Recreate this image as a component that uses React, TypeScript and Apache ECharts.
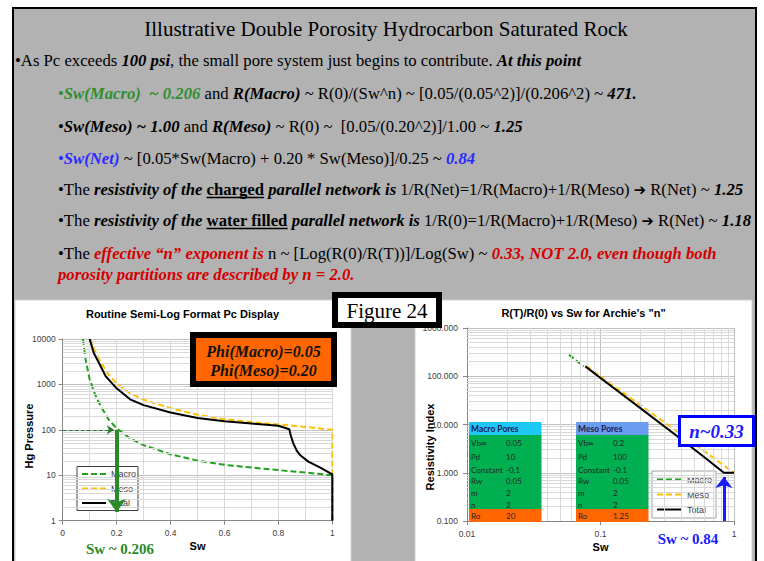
import React, { useEffect, useRef } from 'react';
import * as echarts from 'echarts';

// ---------- texts ----------
const SLIDE_TITLE = 'Illustrative Double Porosity Hydrocarbon Saturated Rock';
const FIGURE_LABEL = 'Figure 24';
const LEFT_TITLE = 'Routine Semi-Log Format Pc Display';
const RIGHT_TITLE = 'R(T)/R(0) vs Sw for Archie\'s "n"';
const LEFT_Y_NAME = 'Hg Pressure';
const RIGHT_Y_NAME = 'Resistivity Index';
const X_NAME = 'Sw';
const seriesNames = ['Macro', 'Meso', 'Total'];
const phiLines = ['Phi(Macro)=0.05', 'Phi(Meso)=0.20'];
const nLabel = 'n~0.33';
const swMacroLabel = 'Sw ~ 0.206';
const swNetLabel = 'Sw ~ 0.84';

// ---------- axes ticks ----------
const swTicks = [0, 0.2, 0.4, 0.6, 0.8, 1];
const pcTicks = [1, 10, 100, 1000, 10000];
const swLogTicks = [0.01, 0.1, 1];
const riTicks = [0.1, 1, 10, 100, 1000];

// ---------- left chart: Hg pressure vs Sw ----------
const macroSw = [0.075, 0.085, 0.1, 0.12, 0.14, 0.17, 0.2, 0.25, 0.3, 0.4, 0.5, 0.6, 0.7, 0.8, 0.9, 1.0, 1.0];
const macroPc = [10000, 3500, 1300, 600, 340, 170, 108, 65, 46, 29, 21, 17, 14.8, 13, 11.5, 10, 1];
const mesoSw = [0.104, 0.12, 0.14, 0.17, 0.2, 0.25, 0.3, 0.4, 0.5, 0.6, 0.7, 0.8, 0.9, 1.0, 1.0];
const mesoPc = [10000, 5500, 3200, 1650, 1050, 640, 460, 300, 215, 172, 148, 132, 116, 100, 1];
const totalSw = [0.1, 0.115, 0.138, 0.16, 0.2, 0.25, 0.3, 0.4, 0.5, 0.6, 0.7, 0.8, 0.8405, 0.8455, 0.855, 0.868, 0.88, 0.911, 0.954, 1.0, 1.0];
const totalPc = [10000, 5000, 2700, 1500, 820, 470, 350, 240, 182, 155, 138, 123, 103, 77, 51, 35, 28, 20, 15, 10.5, 1];

// ---------- right chart: resistivity index vs Sw ----------
const macroRSw = [0.058, 0.075];
const macroRI = [280, 160];
const mesoRSw = [0.078, 0.1, 0.2, 0.4, 0.6, 0.8, 1.0];
const mesoRI = [165, 100, 25, 6.3, 2.8, 1.56, 1.0];
const totalRSw = [0.077, 0.1, 0.2, 0.4, 0.6, 0.84, 1.0];
const totalRI = [160, 92, 21.6, 5.0, 2.1, 1.0, 1.0];

// ---------- annotation anchors (data units) ----------
const pcThreshold = 100;
const macroArrowSw = 0.2;
const netSw = 0.84;

// ---------- parameter tables ----------
const tableRowLabels = ['Vb∞', 'Pd', 'Constant', 'Rw', 'm', 'n'];
const macroParams = ['0.05', '10', '-0.1', '0.05', '2', '2'];
const mesoParams = ['0.2', '100', '-0.1', '0.05', '2', '2'];
const roLabel = 'Ro';
const macroRo = '20';
const mesoRo = '1.25';

// ---------- slide bullet text ----------
type Seg = [string, string];
const textLines: Seg[][] = [
  [['n', '•As Pc exceeds '], ['bi', '100 psi'], ['n', ', the small pore system just begins to contribute. '], ['bi', 'At this point']],
  [['gn', '•'], ['g', 'Sw(Macro)  ~ 0.206'], ['n', ' and '], ['bi', 'R(Macro)'], ['n', ' ~ R(0)/(Sw^n) ~ [0.05/(0.05^2)]/(0.206^2) ~ '], ['bi', '471.']],
  [['n', '•'], ['bi', 'Sw(Meso) ~ 1.00'], ['n', ' and '], ['bi', 'R(Meso)'], ['n', ' ~ R(0) ~  [0.05/(0.20^2)]/1.00 ~ '], ['bi', '1.25']],
  [['bn', '•'], ['b', 'Sw(Net)'], ['n', ' ~ [0.05*Sw(Macro) + 0.20 * Sw(Meso)]/0.25 ~ '], ['b', '0.84']],
  [['n', '•The '], ['bi', 'resistivity of the '], ['u', 'charged'], ['bi', ' parallel network is '], ['n', '1/R(Net)=1/R(Macro)+1/R(Meso) '], ['ar', '➔'], ['n', ' R(Net) ~ '], ['bi', '1.25']],
  [['n', '•The '], ['bi', 'resistivity of the '], ['u', 'water filled'], ['bi', ' parallel network is '], ['n', '1/R(0)=1/R(Macro)+1/R(Meso) '], ['ar', '➔'], ['n', ' R(Net) ~ '], ['bi', '1.18']],
  [['n', '•The '], ['r', 'effective “n” exponent is'], ['n', ' n ~ [Log(R(0)/R(T))]/Log(Sw) ~ '], ['r', '0.33, NOT 2.0, even though both']],
  [['r', 'porosity partitions are described by n = 2.0.']],
];

const SERIF = '"Liberation Serif", "Times New Roman", serif';
const SANS = '"Liberation Sans", Arial, sans-serif';
const TAB = 'Lato, "Noto Sans", sans-serif';

function zip(xs: number[], ys: number[]) {
  return xs.map((x, i) => [x, ys[i]]);
}

function minorLogValues(lo: number, hi: number) {
  const out: number[] = [];
  const e0 = Math.round(Math.log10(lo));
  const e1 = Math.round(Math.log10(hi));
  for (let e = e0; e < e1; e++) {
    for (let k = 2; k <= 9; k++) out.push(+(k * Math.pow(10, e)).toPrecision(3));
  }
  return out;
}

function buildOption() {
  const AX = '#868686';
  const GREEN = '#22a022';
  const ORANGE = '#ffc000';
  const MINOR = '#d9d9d9';
  const MAJOR = '#bfbfbf';
  const lab = { fontSize: 8.5, color: '#404040', fontFamily: SANS };

  const S = 16.7;
  const base = { fontFamily: SERIF, fontSize: S };
  const rich: any = {
    n: { ...base, fill: '#000' },
    bi: { ...base, fontWeight: 'bold', fontStyle: 'italic', fill: '#000' },
    u: { ...base, fontWeight: 'bold', fill: '#000' },
    g: { ...base, fontWeight: 'bold', fontStyle: 'italic', fill: '#2f8f2f' },
    gn: { ...base, fill: '#2f8f2f' },
    b: { ...base, fontWeight: 'bold', fontStyle: 'italic', fill: '#2a2aff' },
    bn: { ...base, fill: '#2a2aff' },
    r: { ...base, fontWeight: 'bold', fontStyle: 'italic', fill: '#d40000' },
    ar: { fontFamily: '"DejaVu Sans"', fontSize: S - 2, fontWeight: 'bold', fill: '#000' },
  };
  const fontOf = (k: string) => {
    const r = rich[k];
    return `${r.fontStyle || 'normal'} ${r.fontWeight || 'normal'} ${r.fontSize}px ${r.fontFamily}`;
  };
  const ctx = document.createElement('canvas').getContext('2d') as CanvasRenderingContext2D;
  const measure = (k: string, s: string) => {
    ctx.font = fontOf(k);
    return ctx.measureText(s).width;
  };

  const lineX = [15, 58, 58, 58, 58, 58, 58, 58];
  const lineY = [60, 93, 126, 158, 189, 220, 253, 274];

  const graphic: any[] = [];
  // slide background & panels
  graphic.push({ type: 'rect', z: -10, silent: true, shape: { x: 13, y: 8, width: 743, height: 600 }, style: { fill: '#b2b2b2', stroke: '#000', lineWidth: 2 } });
  graphic.push({ type: 'rect', z: -9, silent: true, shape: { x: 15, y: 300, width: 336, height: 270 }, style: { fill: '#fff', stroke: '#d0d0d0', lineWidth: 1 } });
  graphic.push({ type: 'rect', z: -9, silent: true, shape: { x: 415, y: 300, width: 337, height: 270 }, style: { fill: '#fff', stroke: '#d0d0d0', lineWidth: 1 } });

  // slide title
  graphic.push({ type: 'text', z: 50, x: 386, y: 29, style: { text: SLIDE_TITLE, fontFamily: SERIF, fontSize: 21, fill: '#000', align: 'center', verticalAlign: 'middle', textAlign: 'center', textVerticalAlign: 'middle' } });

  // bullet lines
  textLines.forEach((segs, i) => {
    const text = segs.map(([k, t]) => `{${k}|${t}}`).join('');
    graphic.push({ type: 'text', z: 50, x: lineX[i], y: lineY[i], style: { text, rich, fontFamily: SERIF, fontSize: S, fill: '#000', align: 'left', verticalAlign: 'middle', textAlign: 'left', textVerticalAlign: 'middle' } });
    let off = 0;
    segs.forEach(([k, t]) => {
      const w = measure(k, t);
      if (k === 'u') {
        graphic.push({ type: 'line', z: 50, shape: { x1: lineX[i] + off, y1: lineY[i] + 8.5, x2: lineX[i] + off + w, y2: lineY[i] + 8.5 }, style: { stroke: '#000', lineWidth: 1.6 } });
      }
      off += w;
    });
  });

  // chart titles and axis names
  graphic.push({ type: 'text', z: 50, x: 182.5, y: 314, style: { text: LEFT_TITLE, fontFamily: SANS, fontSize: 11, fontWeight: 'bold', fill: '#000', align: 'center', verticalAlign: 'middle', textAlign: 'center', textVerticalAlign: 'middle' } });
  graphic.push({ type: 'text', z: 50, x: 583.5, y: 313, style: { text: RIGHT_TITLE, fontFamily: SANS, fontSize: 11, fontWeight: 'bold', fill: '#000', align: 'center', verticalAlign: 'middle', textAlign: 'center', textVerticalAlign: 'middle' } });
  graphic.push({ type: 'text', z: 50, x: 28.5, y: 436, rotation: Math.PI / 2, style: { text: LEFT_Y_NAME, fontFamily: SANS, fontSize: 11, fontWeight: 'bold', fill: '#000', align: 'center', verticalAlign: 'middle', textAlign: 'center', textVerticalAlign: 'middle' } });
  graphic.push({ type: 'text', z: 50, x: 429.5, y: 447, rotation: Math.PI / 2, style: { text: RIGHT_Y_NAME, fontFamily: SANS, fontSize: 11, fontWeight: 'bold', fill: '#000', align: 'center', verticalAlign: 'middle', textAlign: 'center', textVerticalAlign: 'middle' } });

  // Figure 24 box
  graphic.push({ type: 'rect', z: 60, shape: { x: 335, y: 295, width: 104, height: 30 }, style: { fill: '#fff', stroke: '#000', lineWidth: 6 } });
  graphic.push({ type: 'text', z: 61, x: 387, y: 310.5, style: { text: FIGURE_LABEL, fontFamily: SERIF, fontSize: 21, fill: '#000', align: 'center', verticalAlign: 'middle', textAlign: 'center', textVerticalAlign: 'middle' } });

  // Phi box
  graphic.push({ type: 'rect', z: 60, shape: { x: 193, y: 335, width: 141, height: 49 }, style: { fill: '#ff6600', stroke: '#000', lineWidth: 6 } });
  phiLines.forEach((t, i) => {
    graphic.push({ type: 'text', z: 61, x: 263.5, y: 351.5 + i * 19, style: { text: t, fontFamily: SERIF, fontSize: 16, fontWeight: 'bold', fontStyle: 'italic', fill: '#111', align: 'center', verticalAlign: 'middle', textAlign: 'center', textVerticalAlign: 'middle' } });
  });

  // Sw labels
  graphic.push({ type: 'text', z: 61, x: 120, y: 549, style: { text: swMacroLabel, fontFamily: SERIF, fontSize: 15, fontWeight: 'bold', fill: '#2a8a2a', align: 'center', verticalAlign: 'middle', textAlign: 'center', textVerticalAlign: 'middle' } });
  graphic.push({ type: 'text', z: 61, x: 688, y: 539, style: { text: swNetLabel, fontFamily: SERIF, fontSize: 15, fontWeight: 'bold', fill: '#1a1aff', align: 'center', verticalAlign: 'middle', textAlign: 'center', textVerticalAlign: 'middle' } });

  // n box
  graphic.push({ type: 'rect', z: 60, shape: { x: 679.5, y: 416.5, width: 74, height: 29 }, style: { fill: '#fff', stroke: '#0000ff', lineWidth: 3 } });
  graphic.push({ type: 'text', z: 61, x: 716.5, y: 431, style: { text: nLabel, fontFamily: SERIF, fontSize: 19, fontWeight: 'bold', fontStyle: 'italic', fill: '#1a1aff', align: 'center', verticalAlign: 'middle', textAlign: 'center', textVerticalAlign: 'middle' } });

  // parameter tables
  const rowY = [443, 457, 469.5, 481, 493, 505];
  const addTable = (x0: number, title: string, headColor: string, vals: string[], ro: string) => {
    const w = 72.5;
    graphic.push({ type: 'rect', z: 40, shape: { x: x0, y: 422, width: w, height: 13 }, style: { fill: headColor } });
    graphic.push({ type: 'rect', z: 40, shape: { x: x0, y: 435, width: w, height: 74 }, style: { fill: '#00b050' } });
    graphic.push({ type: 'rect', z: 40, shape: { x: x0, y: 509, width: w, height: 13 }, style: { fill: '#ff6600' } });
    const txt = (x: number, y: number, t: string, bold = false, fill = '#262626') => ({
      type: 'text', z: 41, x, y,
      style: { text: t, fontFamily: TAB, fontSize: bold ? 8.5 : 8, fontWeight: bold ? 'bold' : 'normal', fill, align: 'left', verticalAlign: 'middle', textAlign: 'left', textVerticalAlign: 'middle' },
    });
    graphic.push(txt(x0 + 2, 428.5, title, true, '#1f2050'));
    tableRowLabels.forEach((l, i) => {
      graphic.push(txt(x0 + 2, rowY[i], l));
      graphic.push(txt(x0 + 37, rowY[i], vals[i]));
    });
    graphic.push(txt(x0 + 2, 516, roLabel));
    graphic.push(txt(x0 + 37, 516, ro));
  };
  addTable(469, 'Macro Pores', '#1ec8f4', macroParams, macroRo);
  addTable(576, 'Meso Pores', '#6b9cf0', mesoParams, mesoRo);

  const lineSeries = (name: string, gi: number, data: number[][], color: string, dashed: boolean, z = 3) => ({
    name, type: 'line', xAxisIndex: gi, yAxisIndex: gi, data, showSymbol: false, symbol: 'none', symbolSize: 0, z, silent: true,
    lineStyle: { color, width: 2, type: dashed ? [6, 3] : 'solid', cap: 'butt' }, itemStyle: { color, opacity: 0 },
    emphasis: { disabled: true },
  });
  const gridHelper = (gi: number, lines: any[], color: string) => ({
    type: 'line', xAxisIndex: gi, yAxisIndex: gi, data: [], silent: true, z: 1,
    markLine: { silent: true, animation: false, symbol: ['none', 'none'], label: { show: false }, emphasis: { disabled: true },
      lineStyle: { color, width: 1, type: 'solid' }, data: lines },
  });

  const series: any[] = [
    gridHelper(0, minorLogValues(pcTicks[0], pcTicks[pcTicks.length - 1]).map((v) => ({ yAxis: v })), MINOR),
    gridHelper(1, minorLogValues(riTicks[0], riTicks[riTicks.length - 1]).map((v) => ({ yAxis: v })), MINOR),
    gridHelper(1, minorLogValues(swLogTicks[0], swLogTicks[swLogTicks.length - 1]).map((v) => ({ xAxis: v })), MINOR),
    lineSeries(seriesNames[0], 0, zip(macroSw, macroPc), GREEN, true),
    lineSeries(seriesNames[1], 0, zip(mesoSw, mesoPc), ORANGE, true),
    lineSeries(seriesNames[2], 0, zip(totalSw, totalPc), '#000', false, 5),
    lineSeries(seriesNames[0], 1, zip(macroRSw, macroRI), GREEN, true),
    lineSeries(seriesNames[1], 1, zip(mesoRSw, mesoRI), ORANGE, true, 2),
    lineSeries(seriesNames[2], 1, zip(totalRSw, totalRI), '#000', false, 5),
    {
      type: 'line', xAxisIndex: 0, yAxisIndex: 0, data: [], silent: true, z: 10,
      markLine: {
        silent: true, animation: false, symbol: ['none', 'arrow'], label: { show: false }, emphasis: { disabled: true },
        data: [
          [{ coord: [swTicks[0], pcThreshold], lineStyle: { color: '#2a7a2a', width: 1, type: 'dashed' } }, { coord: [macroArrowSw - 0.01, pcThreshold], symbolSize: 7 }],
          [{ coord: [macroArrowSw, pcThreshold], lineStyle: { color: '#2a8a2a', width: 4, type: 'solid' } }, { coord: [macroArrowSw, 1.55], symbolSize: [14, 13] }],
        ],
      },
    },
    {
      type: 'line', xAxisIndex: 1, yAxisIndex: 1, data: [], silent: true, z: 10,
      markLine: {
        silent: true, animation: false, symbol: ['none', 'arrow'], label: { show: false }, emphasis: { disabled: true },
        data: [
          [{ coord: [netSw, riTicks[0]], lineStyle: { color: '#1a1aff', width: 3, type: 'solid' } }, { coord: [netSw, 0.82], symbolSize: [13, 11] }],
        ],
      },
    },
  ];

  const legendBase = {
    orient: 'vertical', data: seriesNames, selectedMode: false, backgroundColor: '#fff', borderWidth: 1, borderRadius: 0,
    textStyle: { fontSize: 9, color: '#404040', fontFamily: SANS }, itemHeight: 9, z: 5,
    itemStyle: { opacity: 0, borderWidth: 0 },
  };

  return {
    animation: false,
    backgroundColor: '#fff',
    graphic: { elements: graphic },
    legend: [
      { ...legendBase, left: 77, top: 466.5, itemWidth: 24, itemGap: 5.5, padding: [3, 2, 3, 4], borderColor: '#404040' },
      { ...legendBase, left: 652, top: 471, itemWidth: 25, itemGap: 6, padding: [4, 4, 4, 4], borderColor: '#a0a0a0' },
    ],
    grid: [
      { left: 62.7, top: 339, width: 269.6, height: 181.7 },
      { left: 467, top: 328, width: 267, height: 193 },
    ],
    xAxis: [
      {
        gridIndex: 0, type: 'value', min: swTicks[0], max: swTicks[swTicks.length - 1], interval: 0.2,
        name: X_NAME, nameLocation: 'middle', nameGap: 20, nameTextStyle: { fontSize: 11, fontWeight: 'bold', color: '#000', fontFamily: SANS },
        axisLine: { onZero: false, lineStyle: { color: AX } }, axisTick: { show: true, length: 4, lineStyle: { color: AX } },
        axisLabel: { ...lab, margin: 8, formatter: (v: number) => String(+(+v).toFixed(1)) },
        splitLine: { show: true, lineStyle: { color: MINOR } },
        minorTick: { show: false, splitNumber: 2 }, minorSplitLine: { show: true, lineStyle: { color: MINOR } },
      },
      {
        gridIndex: 1, type: 'log', logBase: 10, min: swLogTicks[0], max: swLogTicks[swLogTicks.length - 1],
        name: X_NAME, nameLocation: 'middle', nameGap: 20, nameTextStyle: { fontSize: 11, fontWeight: 'bold', color: '#000', fontFamily: SANS },
        axisLine: { onZero: false, lineStyle: { color: AX } }, axisTick: { show: true, length: 4, lineStyle: { color: AX } },
        axisLabel: { ...lab, margin: 8, formatter: (v: number) => String(Number((+v).toPrecision(2))) },
        splitLine: { show: true, lineStyle: { color: MAJOR } },
      },
    ],
    yAxis: [
      {
        gridIndex: 0, type: 'log', logBase: 10, min: pcTicks[0], max: pcTicks[pcTicks.length - 1],
        axisLine: { show: true, onZero: false, lineStyle: { color: AX } }, axisTick: { show: true, length: 4, lineStyle: { color: AX } },
        axisLabel: { ...lab, margin: 7, formatter: (v: number) => String(Math.round(+v)) },
        splitLine: { show: true, lineStyle: { color: MAJOR } },
      },
      {
        gridIndex: 1, type: 'log', logBase: 10, min: riTicks[0], max: riTicks[riTicks.length - 1],
        axisLine: { show: true, onZero: false, lineStyle: { color: AX } }, axisTick: { show: true, length: 4, lineStyle: { color: AX } },
        axisLabel: { ...lab, margin: 9, formatter: (v: number) => (+v).toFixed(3) },
        splitLine: { show: true, lineStyle: { color: MAJOR } },
      },
    ],
    series,
  };
}

export default function App() {
  const ref = useRef<HTMLDivElement>(null);
  useEffect(() => {
    document.body.style.margin = '0';
    const chart = echarts.init(ref.current as HTMLDivElement, null, { renderer: 'svg' });
    chart.setOption(buildOption() as any);
    return () => chart.dispose();
  }, []);
  return <div ref={ref} style={{ position: 'absolute', left: 0, top: 0, width: 764, height: 561 }} />;
}
